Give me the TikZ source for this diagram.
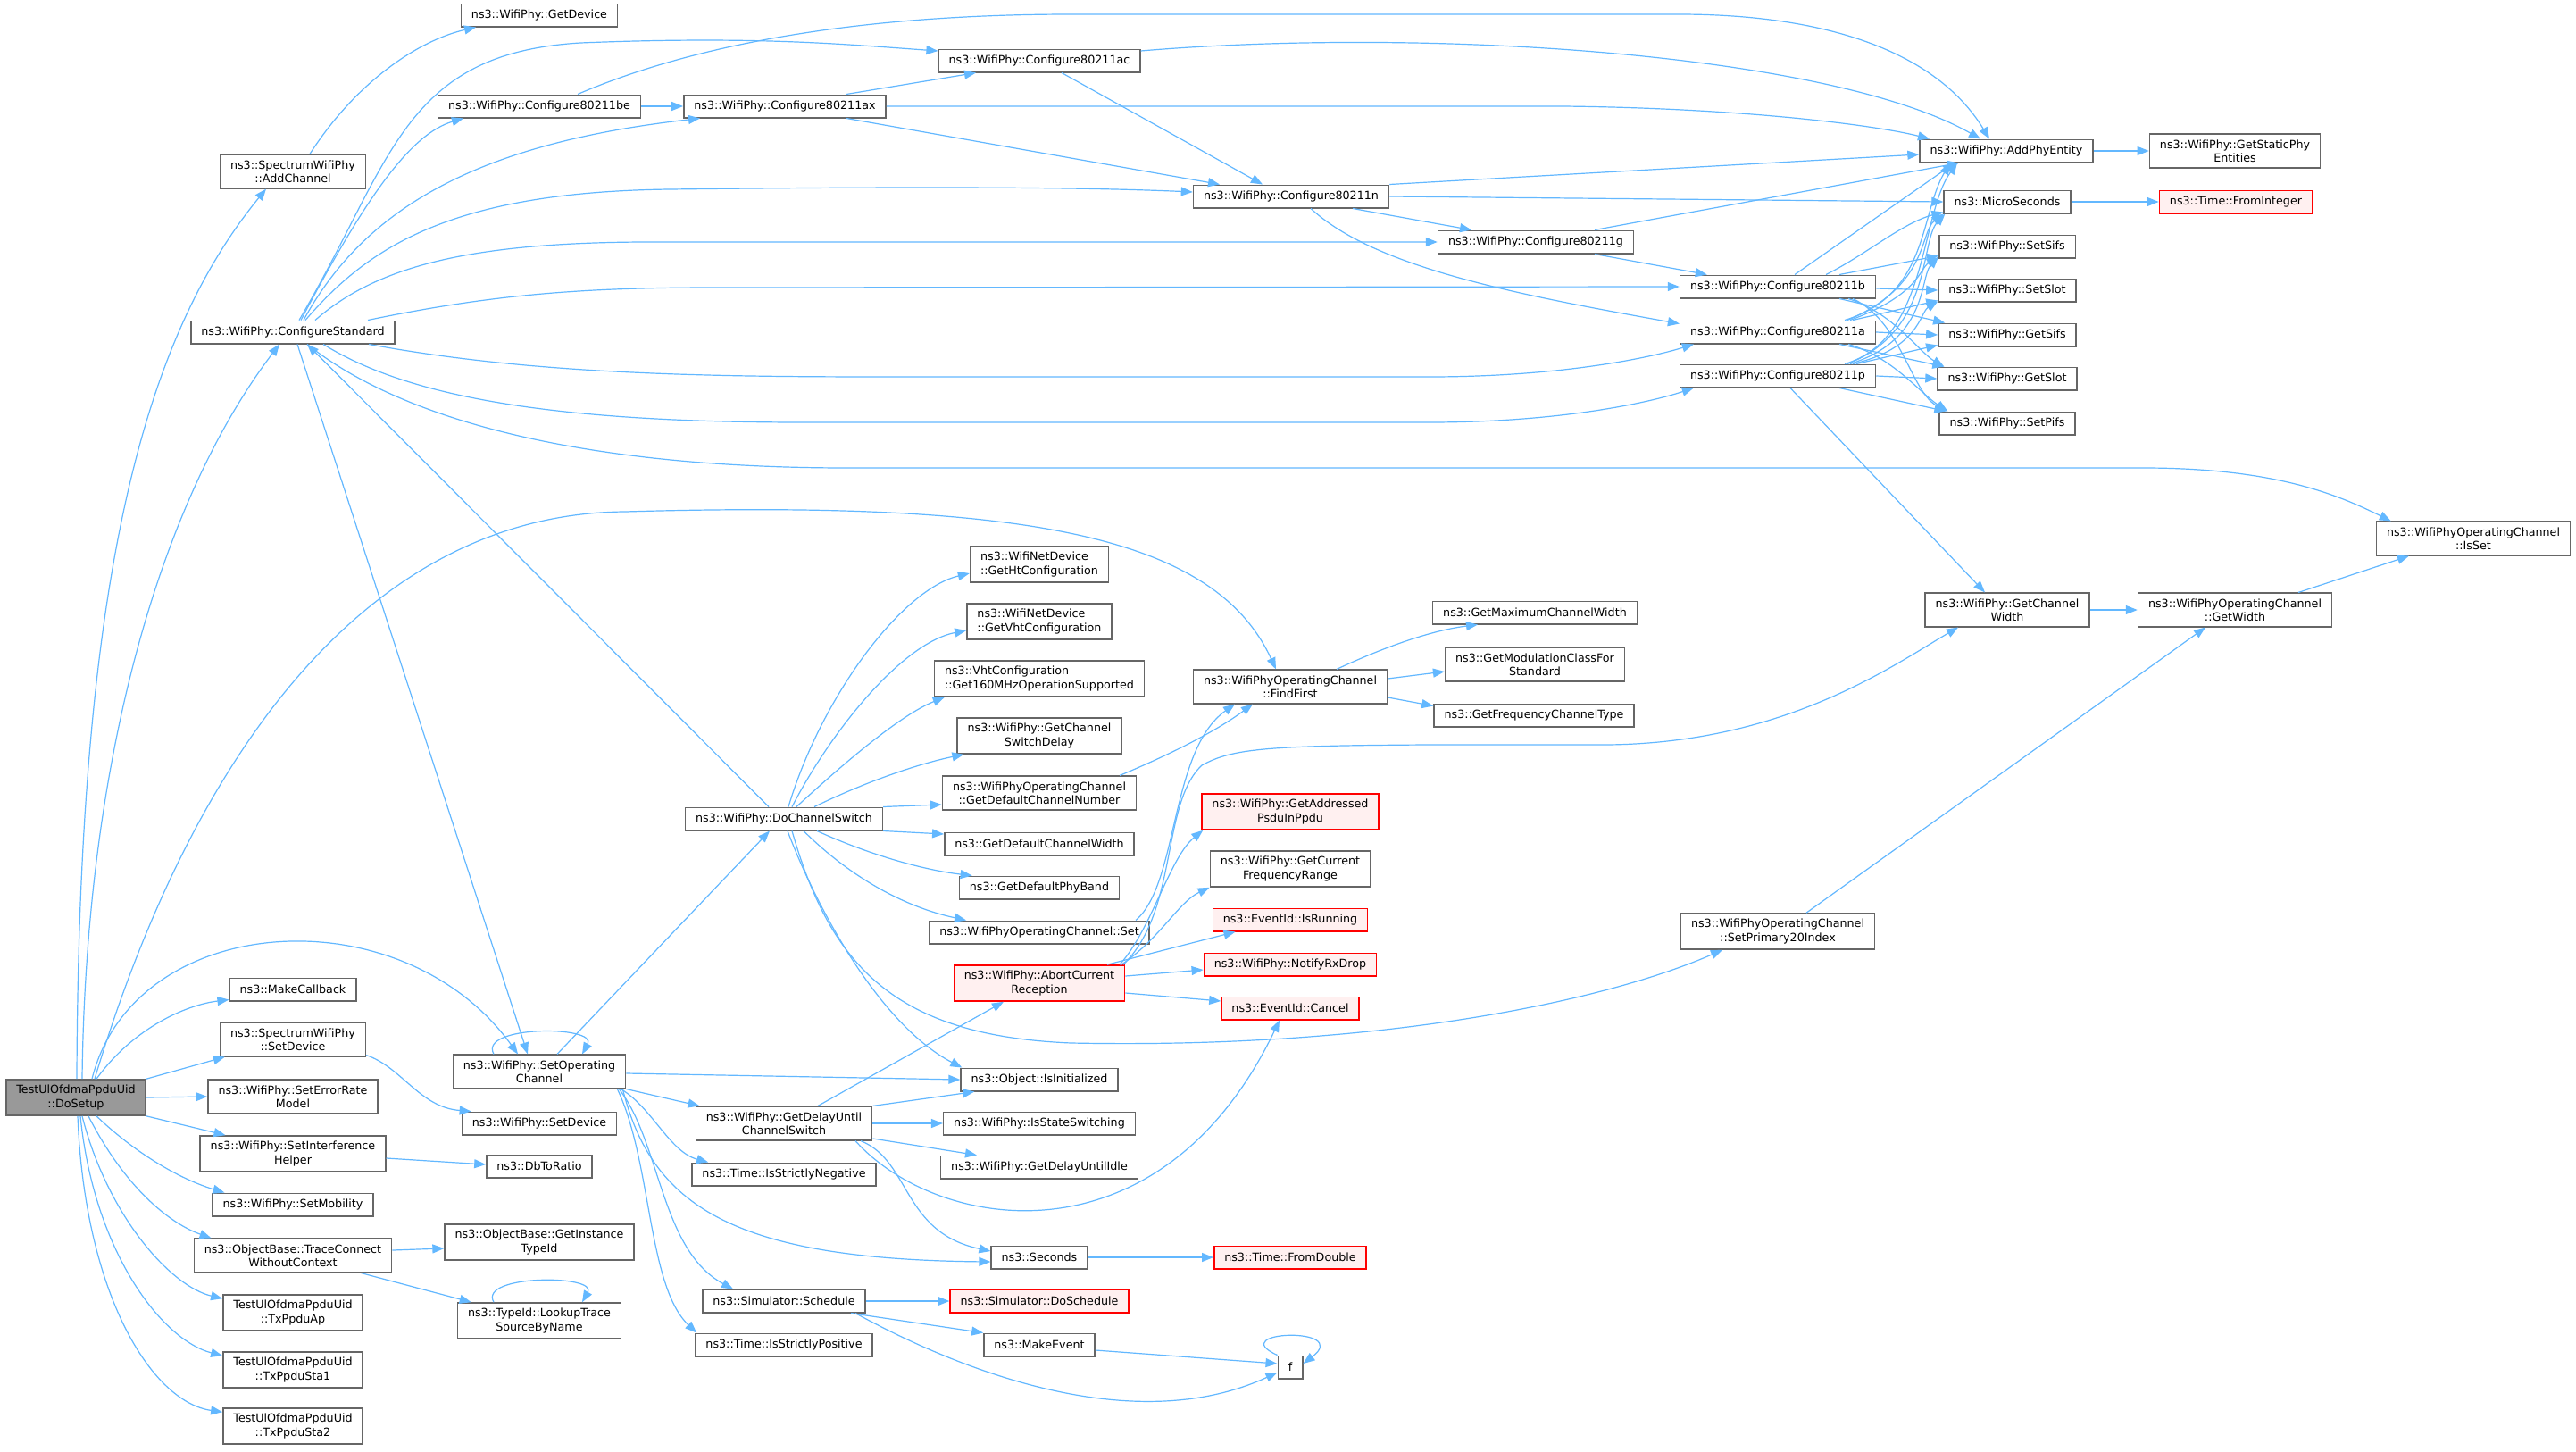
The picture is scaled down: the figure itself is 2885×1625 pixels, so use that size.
\documentclass[tikz,border=0pt]{standalone}
\usepackage{fontspec}
\setmainfont{DejaVu Sans}
\usetikzlibrary{arrows.meta}
\definecolor{edgeblue}{HTML}{63B8FF}
\definecolor{boxgray}{HTML}{666666}
\definecolor{rootgray}{HTML}{999999}
\definecolor{redfill}{HTML}{FFF0F0}
\begin{document}
\begin{tikzpicture}[x=1pt,y=-1pt,
  fnbox/.style={draw=boxgray, line width=1.5pt, fill=white, inner xsep=11.5pt, inner ysep=6.3pt,
    minimum height=25.5pt, align=center, font=\fontsize{12.7}{15.2}\selectfont},
  fnred/.style={fnbox, draw=red, fill=redfill},
  fnroot/.style={fnbox, fill=rootgray},
  calls/.style={draw=edgeblue, line width=1.2pt, -{Triangle[length=13pt,width=10pt]}}]
\fill[white] (0,0) rectangle (2885,1625);
\useasboundingbox (0,0) rectangle (2885,1625);
\node[fnroot] (ds) at (85,1229) {TestUlOfdmaPpduUid\\::DoSetup};
\node[fnbox] (addch) at (328,192) {ns3::SpectrumWifiPhy\\::AddChannel};
\node[fnbox] (getdev) at (604,17) {ns3::WifiPhy::GetDevice};
\node[fnbox] (cfgstd) at (328,372) {ns3::WifiPhy::ConfigureStandard};
\node[fnbox] (cfgbe) at (604,119) {ns3::WifiPhy::Configure80211be};
\node[fnbox] (cfgax) at (879,119) {ns3::WifiPhy::Configure80211ax};
\node[fnbox] (cfgac) at (1164,68) {ns3::WifiPhy::Configure80211ac};
\node[fnbox] (cfgn) at (1446,220) {ns3::WifiPhy::Configure80211n};
\node[fnbox] (cfgg) at (1720,271) {ns3::WifiPhy::Configure80211g};
\node[fnbox] (cfgb) at (1991,321) {ns3::WifiPhy::Configure80211b};
\node[fnbox] (cfga) at (1991,372) {ns3::WifiPhy::Configure80211a};
\node[fnbox] (cfgp) at (1991,421) {ns3::WifiPhy::Configure80211p};
\node[fnbox] (addphy) at (2247,169) {ns3::WifiPhy::AddPhyEntity};
\node[fnbox] (staticphy) at (2503,169) {ns3::WifiPhy::GetStaticPhy\\Entities};
\node[fnbox] (micro) at (2248,226) {ns3::MicroSeconds};
\node[fnred] (fromint) at (2504,226) {ns3::Time::FromInteger};
\node[fnbox] (setsifs) at (2248,276) {ns3::WifiPhy::SetSifs};
\node[fnbox] (setslot) at (2248,325) {ns3::WifiPhy::SetSlot};
\node[fnbox] (getsifs) at (2248,375) {ns3::WifiPhy::GetSifs};
\node[fnbox] (getslot) at (2248,424) {ns3::WifiPhy::GetSlot};
\node[fnbox] (setpifs) at (2248,474) {ns3::WifiPhy::SetPifs};
\node[fnbox] (isset) at (2770,603) {ns3::WifiPhyOperatingChannel\\::IsSet};
\node[fnbox] (chwidth) at (2248,683) {ns3::WifiPhy::GetChannel\\Width};
\node[fnbox] (getwidth) at (2503,683) {ns3::WifiPhyOperatingChannel\\::GetWidth};
\node[fnbox] (findfirst) at (1445,769) {ns3::WifiPhyOperatingChannel\\::FindFirst};
\node[fnbox] (maxcw) at (1719,686) {ns3::GetMaximumChannelWidth};
\node[fnbox] (modcls) at (1719,744) {ns3::GetModulationClassFor\\Standard};
\node[fnbox] (freqtype) at (1718,801) {ns3::GetFrequencyChannelType};
\node[fnbox, align=left] (htcfg) at (1164,632) {ns3::WifiNetDevice\\::GetHtConfiguration};
\node[fnbox, align=left] (vhtcfg) at (1164,696) {ns3::WifiNetDevice\\::GetVhtConfiguration};
\node[fnbox, align=left] (op160) at (1164,760) {ns3::VhtConfiguration\\::Get160MHzOperationSupported};
\node[fnbox] (swdelay) at (1164,824) {ns3::WifiPhy::GetChannel\\SwitchDelay};
\node[fnbox] (defnum) at (1164,888) {ns3::WifiPhyOperatingChannel\\::GetDefaultChannelNumber};
\node[fnbox] (defwidth) at (1164,945) {ns3::GetDefaultChannelWidth};
\node[fnbox] (defband) at (1164,994) {ns3::GetDefaultPhyBand};
\node[fnbox] (opset) at (1164,1044) {ns3::WifiPhyOperatingChannel::Set};
\node[fnbox] (dcs) at (878,917) {ns3::WifiPhy::DoChannelSwitch};
\node[fnred] (psdu) at (1445,909) {ns3::WifiPhy::GetAddressed\\PsduInPpdu};
\node[fnbox] (freqrange) at (1445,973) {ns3::WifiPhy::GetCurrent\\FrequencyRange};
\node[fnred] (isrun) at (1445,1030) {ns3::EventId::IsRunning};
\node[fnred] (rxdrop) at (1445,1080) {ns3::WifiPhy::NotifyRxDrop};
\node[fnred] (abort) at (1164,1101) {ns3::WifiPhy::AbortCurrent\\Reception};
\node[fnred] (cancel) at (1445,1129) {ns3::EventId::Cancel};
\node[fnbox] (prim20) at (1991,1043) {ns3::WifiPhyOperatingChannel\\::SetPrimary20Index};
\node[fnbox] (isinit) at (1164,1209) {ns3::Object::IsInitialized};
\node[fnbox] (soc) at (604,1200) {ns3::WifiPhy::SetOperating\\Channel};
\node[fnbox] (delaysw) at (878,1258) {ns3::WifiPhy::GetDelayUntil\\ChannelSwitch};
\node[fnbox] (stswitch) at (1164,1258) {ns3::WifiPhy::IsStateSwitching};
\node[fnbox] (delayidle) at (1164,1307) {ns3::WifiPhy::GetDelayUntilIdle};
\node[fnbox] (strneg) at (878,1315) {ns3::Time::IsStrictlyNegative};
\node[fnbox] (seconds) at (1164,1408) {ns3::Seconds};
\node[fnred] (fromdbl) at (1445,1408) {ns3::Time::FromDouble};
\node[fnbox] (sched) at (878,1457) {ns3::Simulator::Schedule};
\node[fnred] (dosched) at (1164,1457) {ns3::Simulator::DoSchedule};
\node[fnbox] (mkevent) at (1164,1506) {ns3::MakeEvent};
\node[fnbox] (f) at (1445,1531) {f};
\node[fnbox] (strpos) at (878,1506) {ns3::Time::IsStrictlyPositive};
\node[fnbox] (mkcb) at (328,1108) {ns3::MakeCallback};
\node[fnbox] (specdev) at (328,1164) {ns3::SpectrumWifiPhy\\::SetDevice};
\node[fnbox] (errmodel) at (328,1228) {ns3::WifiPhy::SetErrorRate\\Model};
\node[fnbox] (interf) at (328,1292) {ns3::WifiPhy::SetInterference\\Helper};
\node[fnbox] (mobility) at (328,1349) {ns3::WifiPhy::SetMobility};
\node[fnbox] (trace) at (328,1406) {ns3::ObjectBase::TraceConnect\\WithoutContext};
\node[fnbox] (txap) at (328,1470) {TestUlOfdmaPpduUid\\::TxPpduAp};
\node[fnbox] (txsta1) at (328,1534) {TestUlOfdmaPpduUid\\::TxPpduSta1};
\node[fnbox] (txsta2) at (328,1597) {TestUlOfdmaPpduUid\\::TxPpduSta2};
\node[fnbox] (wsetdev) at (604,1258) {ns3::WifiPhy::SetDevice};
\node[fnbox] (dbratio) at (604,1306) {ns3::DbToRatio};
\node[fnbox] (typeid) at (604,1391) {ns3::ObjectBase::GetInstance\\TypeId};
\node[fnbox] (lookup) at (604,1479) {ns3::TypeId::LookupTrace\\SourceByName};
\draw[calls] ([xshift=1pt]ds.north) .. controls (88,650) and (160,380) .. ([xshift=-30pt]addch.south);
\draw[calls] ([xshift=7pt]ds.north) .. controls (96,850) and (180,560) .. ([xshift=-15pt]cfgstd.south);
\draw[calls] ([xshift=21pt]ds.north) .. controls (220,830) and (420,575) .. (700,573) .. controls (1150,560) and (1360,600) .. ([xshift=-16pt]findfirst.north);
\draw[calls] ([xshift=18pt]ds.north) .. controls (150,1020) and (450,1000) .. ([xshift=-24pt]soc.north);
\draw[calls] ([xshift=23pt]ds.north) .. controls (150,1150) and (210,1125) .. ([yshift=2pt]mkcb.south west);
\draw[calls] (ds.north east) -- ([xshift=6pt]specdev.south west);
\draw[calls] (ds.east) -- (errmodel.west);
\draw[calls] (ds.south east) -- ([xshift=29pt]interf.north west);
\draw[calls] ([xshift=23pt]ds.south) .. controls (150,1290) and (200,1320) .. ([xshift=14pt]mobility.north west);
\draw[calls] ([xshift=14pt]ds.south) .. controls (140,1330) and (190,1370) .. ([xshift=20pt]trace.north west);
\draw[calls] ([xshift=7pt]ds.south) .. controls (120,1360) and (190,1440) .. ([yshift=-5pt]txap.north west);
\draw[calls] ([xshift=5pt]ds.south) .. controls (105,1400) and (180,1500) .. ([yshift=-5pt]txsta1.north west);
\draw[calls] ([xshift=2pt]ds.south) .. controls (95,1450) and (170,1570) .. ([yshift=-5pt]txsta2.north west);
\draw[calls] ([xshift=19pt]addch.north) .. controls (400,90) and (470,45) .. ([xshift=-71pt]getdev.south);
\draw[calls] ([yshift=2pt]specdev.south east) .. controls (450,1195) and (470,1240) .. ([xshift=11pt]wsetdev.north west);
\draw[calls] ([yshift=-5pt]interf.east) -- ([yshift=2pt]dbratio.west);
\draw[calls] ([yshift=6pt]trace.east) -- ([yshift=-7pt]typeid.west);
\draw[calls] ([xshift=-35pt]trace.south east) -- ([xshift=16pt]lookup.north west);
\draw[calls] ([xshift=-51pt]lookup.north) .. controls (535,1427) and (670,1427) .. ([xshift=48pt]lookup.north);
\draw[calls] ([xshift=-51pt]soc.north) .. controls (535,1148) and (670,1148) .. ([xshift=48pt]soc.north);
\draw[calls] ([xshift=20pt]soc.north) -- ([xshift=-16pt]dcs.south);
\draw[calls] ([yshift=-2pt]soc.east) -- (isinit.west);
\draw[calls] (soc.south east) -- ([xshift=5pt]delaysw.north west);
\draw[calls] ([xshift=-6pt]soc.south east) .. controls (730,1240) and (750,1290) .. ([xshift=19pt]strneg.north west);
\draw[calls] ([xshift=-4pt]soc.south east) .. controls (730,1350) and (820,1410) .. ([yshift=-5pt]seconds.west);
\draw[calls] ([xshift=-8pt]soc.south east) .. controls (740,1280) and (740,1400) .. ([xshift=35pt]sched.north west);
\draw[calls] ([xshift=-10pt]soc.south east) .. controls (730,1300) and (725,1440) .. ([xshift=2pt]strpos.north west);
\draw[calls] ([xshift=5pt]cfgstd.south) -- ([xshift=-13pt]soc.north);
\draw[calls] ([xshift=-17pt]dcs.north) -- ([xshift=16pt]cfgstd.south);
\draw[calls] ([xshift=9pt]cfgstd.north) .. controls (410,220) and (460,150) .. ([xshift=-85pt]cfgbe.south);
\draw[calls] ([xshift=7pt]cfgstd.north) .. controls (440,180) and (450,60) .. (650,48) .. controls (850,40) and (950,50) .. ([yshift=11pt]cfgac.west);
\draw[calls] ([xshift=12pt]cfgstd.north) .. controls (410,230) and (540,160) .. ([xshift=-95pt]cfgax.south);
\draw[calls] ([xshift=14pt]cfgstd.north) .. controls (410,280) and (500,215) .. (750,212) .. controls (1000,209) and (1200,209) .. ([yshift=5pt]cfgn.west);
\draw[calls] ([xshift=25pt]cfgstd.north) .. controls (420,300) and (520,272) .. (720,271) -- (cfgg.west);
\draw[calls] ([xshift=84pt]cfgstd.north) .. controls (550,330) and (650,322) .. (800,322) -- (cfgb.west);
\draw[calls] ([xshift=85pt]cfgstd.south) .. controls (600,420) and (800,422) .. (1000,422) -- (1600,422) .. controls (1750,422) and (1850,400) .. ([xshift=16pt]cfga.south west);
\draw[calls] ([xshift=34pt]cfgstd.south) .. controls (450,440) and (600,473) .. (900,473) -- (1600,473) .. controls (1750,473) and (1850,450) .. ([xshift=16pt]cfgp.south west);
\draw[calls] ([xshift=16pt]cfgstd.south) .. controls (450,470) and (650,524) .. (950,524) -- (2400,524) .. controls (2550,524) and (2620,555) .. ([xshift=17pt]isset.north west);
\draw[calls] (cfgbe.east) -- (cfgax.west);
\draw[calls] ([xshift=43pt]cfgbe.north) .. controls (800,40) and (1000,16) .. (1200,16) -- (1880,16) .. controls (2050,16) and (2170,60) .. ([xshift=-19pt]addphy.north);
\draw[calls] ([xshift=69pt]cfgax.north) -- ([xshift=-71pt]cfgac.south);
\draw[calls] (cfgax.east) -- (1750,119) .. controls (1950,121) and (2100,140) .. ([xshift=-86pt]addphy.north);
\draw[calls] ([xshift=69pt]cfgax.south) -- ([xshift=-80pt]cfgn.north);
\draw[calls] ([yshift=11pt]cfgac.east) .. controls (1600,30) and (2050,60) .. ([xshift=-29pt]addphy.north);
\draw[calls] ([xshift=25pt]cfgac.south) -- ([xshift=-32pt]cfgn.north);
\draw[calls] (cfgn.north east) -- ([yshift=-4pt]addphy.west);
\draw[calls] (cfgn.east) -- (micro.west);
\draw[calls] ([xshift=69pt]cfgn.south) -- ([xshift=-72pt]cfgg.north);
\draw[calls] ([xshift=22pt]cfgn.south) .. controls (1540,300) and (1700,330) .. ([yshift=-4pt]cfga.north west);
\draw[calls] ([xshift=66pt]cfgg.north) -- ([xshift=-53pt]addphy.south);
\draw[calls] ([xshift=66pt]cfgg.south) -- ([xshift=31pt]cfgb.north west);
\draw[calls] ([xshift=19pt]cfgb.north) -- ([xshift=-58pt]addphy.south);
\draw[calls] ([xshift=54pt]cfgb.north) .. controls (2090,285) and (2130,250) .. ([yshift=2pt]micro.south west);
\draw[calls] ([xshift=69pt]cfgb.north) -- ([yshift=3pt]setsifs.south west);
\draw[calls] ([yshift=-2pt]cfgb.east) -- (setslot.west);
\draw[calls] ([xshift=69pt]cfgb.south) -- ([xshift=8pt]getsifs.north west);
\draw[calls] ([xshift=79pt]cfgb.south) .. controls (2120,350) and (2150,395) .. ([xshift=8pt]getslot.north west);
\draw[calls] ([xshift=84pt]cfgb.south) .. controls (2130,360) and (2140,440) .. ([xshift=10pt]setpifs.north west);
\draw[calls] ([xshift=75pt]cfga.north) .. controls (2160,330) and (2150,240) .. ([xshift=-63pt]addphy.south);
\draw[calls] ([xshift=78pt]cfga.north) .. controls (2160,320) and (2150,260) .. (micro.south west);
\draw[calls] ([xshift=81pt]cfga.north) .. controls (2150,330) and (2150,300) .. ([yshift=1pt]setsifs.south west);
\draw[calls] ([xshift=84pt]cfga.north) -- ([yshift=2pt]setslot.south west);
\draw[calls] (cfga.east) -- (getsifs.west);
\draw[calls] ([xshift=69pt]cfga.south) -- ([xshift=8pt]getslot.north west);
\draw[calls] ([xshift=79pt]cfga.south) .. controls (2120,400) and (2150,440) .. ([xshift=10pt]setpifs.north west);
\draw[calls] ([xshift=75pt]cfgp.north) .. controls (2160,380) and (2150,240) .. ([xshift=-55pt]addphy.south);
\draw[calls] ([xshift=78pt]cfgp.north) .. controls (2165,370) and (2150,270) .. ([xshift=2pt]micro.south west);
\draw[calls] ([xshift=81pt]cfgp.north) .. controls (2160,380) and (2150,310) .. ([yshift=2pt]setsifs.south west);
\draw[calls] ([xshift=84pt]cfgp.north) .. controls (2150,390) and (2150,350) .. ([yshift=1pt]setslot.south west);
\draw[calls] ([xshift=88pt]cfgp.north) -- ([yshift=2pt]getsifs.south west);
\draw[calls] (cfgp.east) -- (getslot.west);
\draw[calls] ([xshift=69pt]cfgp.south) -- ([xshift=8pt]setpifs.north west);
\draw[calls] ([xshift=14pt]cfgp.south) -- ([xshift=-25pt]chwidth.north);
\draw[calls] (addphy.east) -- (staticphy.west);
\draw[calls] (micro.east) -- (fromint.west);
\draw[calls] (chwidth.east) -- (getwidth.west);
\draw[calls] ([xshift=71pt]getwidth.north) -- ([xshift=-72pt]isset.south);
\draw[calls] ([xshift=32pt]prim20.north) -- ([xshift=-33pt]getwidth.south);
\draw[calls] ([xshift=52pt]findfirst.north) .. controls (1560,720) and (1610,705) .. ([xshift=-64pt]maxcw.south);
\draw[calls] ([yshift=9pt]findfirst.east) -- ([yshift=-8pt]modcls.west);
\draw[calls] ([yshift=-12pt]findfirst.east) -- ([yshift=-3pt]freqtype.north west);
\draw[calls] ([xshift=5pt]dcs.north) .. controls (920,780) and (1010,660) .. ([yshift=-10pt]htcfg.west);
\draw[calls] ([xshift=9pt]dcs.north) .. controls (930,820) and (1010,720) .. ([yshift=-10pt]vhtcfg.west);
\draw[calls] ([xshift=14pt]dcs.north) .. controls (950,850) and (1010,800) .. ([xshift=12pt]op160.south west);
\draw[calls] ([xshift=34pt]dcs.north) .. controls (970,875) and (1030,855) .. ([xshift=8pt]swdelay.south west);
\draw[calls] (dcs.north east) -- ([yshift=-13pt]defnum.west);
\draw[calls] (dcs.south east) -- ([yshift=11pt]defwidth.west);
\draw[calls] ([xshift=37pt]dcs.south) .. controls (980,960) and (1040,975) .. ([xshift=15pt]defband.north west);
\draw[calls] ([xshift=22pt]dcs.south) .. controls (950,980) and (1010,1015) .. ([xshift=42pt]opset.north west);
\draw[calls] ([xshift=4pt]dcs.south) .. controls (920,1030) and (990,1150) .. ([xshift=2pt]isinit.north west);
\draw[calls] ([xshift=9pt]dcs.south) .. controls (930,1080) and (1000,1160) .. (1200,1168) .. controls (1550,1175) and (1800,1120) .. ([xshift=-62pt]prim20.south);
\draw[calls] ([xshift=108pt]opset.north) .. controls (1320,990) and (1310,840) .. ([xshift=-62pt]findfirst.south);
\draw[calls] ([xshift=90pt]defnum.north) .. controls (1310,845) and (1360,820) .. ([xshift=-42pt]findfirst.south);
\draw[calls] ([xshift=90pt]abort.north) .. controls (1290,1040) and (1310,960) .. ([xshift=2pt]psdu.south west);
\draw[calls] ([xshift=92pt]abort.north) .. controls (1300,1050) and (1320,1010) .. (freqrange.south west);
\draw[calls] ([xshift=76pt]abort.north) -- ([xshift=26pt]isrun.south west);
\draw[calls] ([yshift=8pt]abort.east) -- ([yshift=-6pt]rxdrop.west);
\draw[calls] ([yshift=-11pt]abort.east) -- ([yshift=8pt]cancel.west);
\draw[calls] ([xshift=94pt]abort.north) .. controls (1320,1020) and (1300,900) .. (1346,857) .. controls (1380,838) and (1420,835) .. (1600,834) -- (1800,834) .. controls (2000,832) and (2120,745) .. ([xshift=-55pt]chwidth.south);
\draw[calls] ([xshift=38pt]delaysw.north) -- ([xshift=-40pt]abort.south);
\draw[calls] (delaysw.north east) -- ([xshift=16pt]isinit.south west);
\draw[calls] (delaysw.east) -- (stswitch.west);
\draw[calls] ([yshift=-17pt]delaysw.east) -- ([xshift=41pt]delayidle.north west);
\draw[calls] ([xshift=86pt]delaysw.south) .. controls (1020,1300) and (1010,1380) .. ([yshift=7pt]seconds.west);
\draw[calls] ([xshift=80pt]delaysw.south) .. controls (1050,1380) and (1300,1420) .. ([xshift=-12pt]cancel.south);
\draw[calls] (seconds.east) -- (fromdbl.west);
\draw[calls] (sched.east) -- (dosched.west);
\draw[calls] ([xshift=75pt]sched.south) -- (mkevent.north west);
\draw[calls] ([xshift=80pt]sched.south) .. controls (1030,1510) and (1250,1620) .. ([yshift=-6pt]f.west);
\draw[calls] ([yshift=-6pt]mkevent.east) -- ([yshift=4pt]f.west);
\draw[calls] (f.north west) .. controls (1370,1490) and (1515,1485) .. ([yshift=4pt]f.east);
\end{tikzpicture}
\end{document}
